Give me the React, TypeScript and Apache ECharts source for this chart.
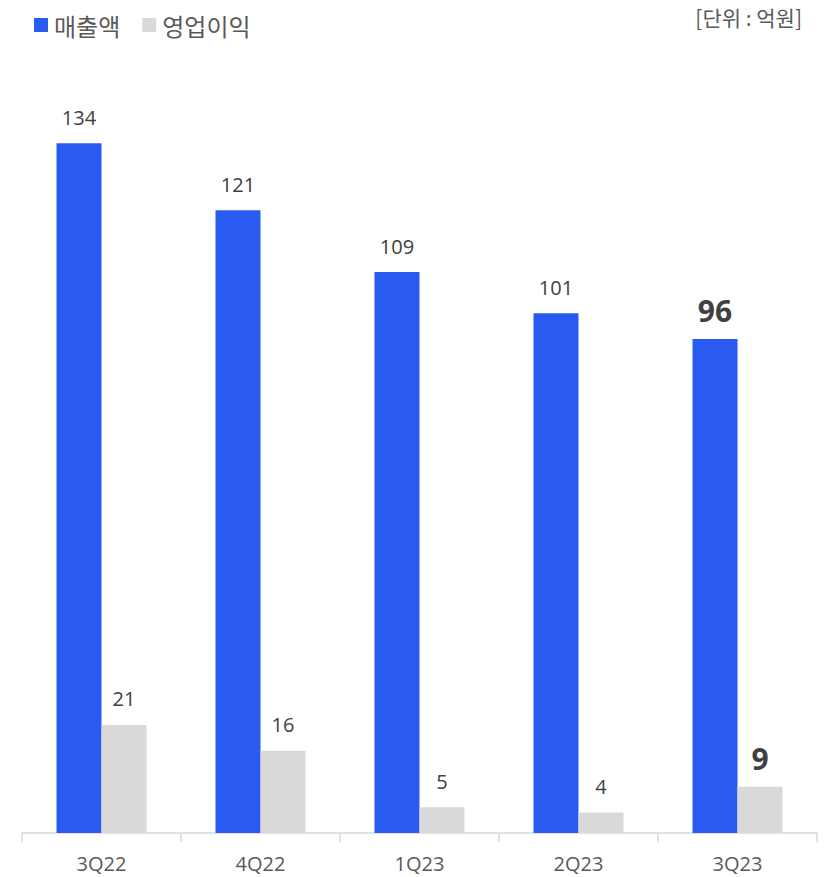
import React, { useEffect, useRef } from "react";
import * as echarts from "echarts";

const categories = ["3Q22", "4Q22", "1Q23", "2Q23", "3Q23"];
const revenue = [134, 121, 109, 101, 96];
const operatingProfit = [21, 16, 5, 4, 9];
const seriesNames = ["매출액", "영업이익"];
const unitText = "[단위 : 억원]";
const highlightIndex = 4;

const FONT = "'Open Sans', 'Noto Sans CJK KR', sans-serif";
const KFONT = "'Noto Sans CJK KR', 'Noto Sans', sans-serif";
const BLUE = "#2A5BF1";
const GRAY = "#D9D9D9";
const TEXT = "#595959";
const LABEL = "#404040";

function buildData(values: number[]) {
  return values.map((v, i) =>
    i === highlightIndex
      ? { value: v, label: { fontSize: 30, fontWeight: "bold" as const, distance: 13 } }
      : { value: v }
  );
}

export default function App() {
  const ref = useRef<HTMLDivElement>(null);
  useEffect(() => {
    if (!ref.current) return;
    const chart = echarts.init(ref.current, undefined, { renderer: "svg" });
    const labelCfg = {
      show: true,
      position: "top" as const,
      distance: 16,
      fontSize: 20,
      color: LABEL,
      fontFamily: FONT,
    };
    chart.setOption({
      animation: false,
      backgroundColor: "#ffffff",
      textStyle: { fontFamily: FONT },
      legend: {
        left: 29,
        top: 8,
        itemWidth: 14,
        itemHeight: 14,
        itemGap: 22,
        icon: "rect",
        textStyle: { fontSize: 24, color: TEXT, fontFamily: KFONT, padding: [0, 0, 0, 1] },
        data: seriesNames,
      },
      graphic: [
        {
          type: "text",
          right: 27,
          top: 6,
          style: { text: unitText, fontSize: 21, fill: TEXT, fontFamily: KFONT },
        },
      ],
      grid: { left: 22, right: 12, top: 61, bottom: 44, containLabel: false },
      xAxis: {
        type: "category",
        data: categories,
        axisLine: { lineStyle: { color: GRAY, width: 1.5 } },
        axisTick: { show: true, length: 9, lineStyle: { color: GRAY, width: 1.5 } },
        axisLabel: { fontSize: 20, color: TEXT, margin: 20, fontFamily: FONT },
      },
      yAxis: {
        type: "value",
        min: 0,
        max: 150,
        show: false,
        splitLine: { show: false },
      },
      series: [
        {
          name: seriesNames[0],
          type: "bar",
          data: buildData(revenue),
          barWidth: 45,
          barGap: "0%",
          itemStyle: { color: BLUE },
          label: labelCfg,
        },
        {
          name: seriesNames[1],
          type: "bar",
          data: buildData(operatingProfit),
          barWidth: 45,
          itemStyle: { color: GRAY },
          label: labelCfg,
        },
      ],
    });
    return () => chart.dispose();
  }, []);
  return (
    <div
      ref={ref}
      style={{ position: "fixed", left: 0, top: 0, width: 829, height: 877, background: "#fff" }}
    />
  );
}
